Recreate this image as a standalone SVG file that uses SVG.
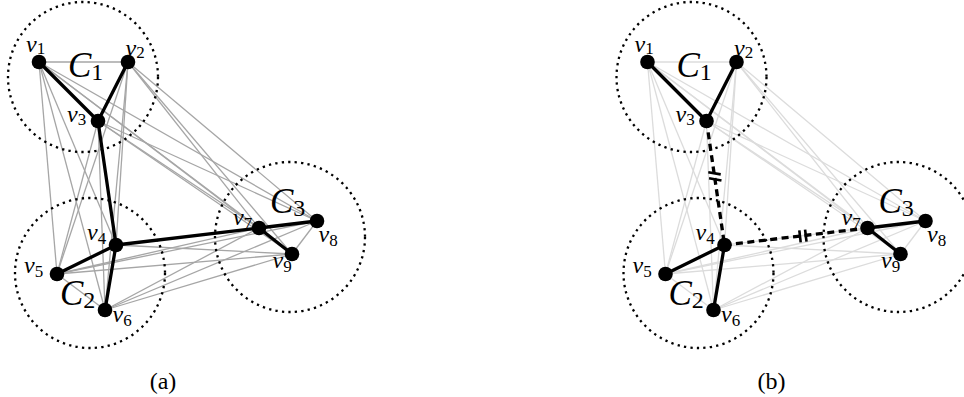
<svg xmlns="http://www.w3.org/2000/svg" width="964" height="397" viewBox="0 0 964 397">
<style>
.ga{stroke:#a6a6a6;stroke-width:1.3;fill:none}
.gb{stroke:#dcdcdc;stroke-width:1.3;fill:none}
.th{stroke:#000;stroke-width:3.3;fill:none;stroke-linecap:round}
.da{stroke:#000;stroke-width:3.3;fill:none;stroke-dasharray:7 4.5}
.tk{stroke:#000;stroke-width:2.6;fill:none}
.clu{fill:none;stroke:#000;stroke-width:2.3;stroke-dasharray:2.3 4.2}
.nd{fill:#000}
</style>
<defs>
<g id="grayedges">
<line x1="39" y1="62" x2="128" y2="62"/>
<line x1="39" y1="62" x2="116" y2="245"/>
<line x1="39" y1="62" x2="57" y2="274"/>
<line x1="39" y1="62" x2="105" y2="310"/>
<line x1="39" y1="62" x2="259" y2="228"/>
<line x1="39" y1="62" x2="317" y2="221"/>
<line x1="39" y1="62" x2="292" y2="254"/>
<line x1="128" y1="62" x2="116" y2="245"/>
<line x1="128" y1="62" x2="57" y2="274"/>
<line x1="128" y1="62" x2="105" y2="310"/>
<line x1="128" y1="62" x2="259" y2="228"/>
<line x1="128" y1="62" x2="317" y2="221"/>
<line x1="128" y1="62" x2="292" y2="254"/>
<line x1="98" y1="121" x2="57" y2="274"/>
<line x1="98" y1="121" x2="105" y2="310"/>
<line x1="98" y1="121" x2="259" y2="228"/>
<line x1="98" y1="121" x2="317" y2="221"/>
<line x1="98" y1="121" x2="292" y2="254"/>
<line x1="116" y1="245" x2="317" y2="221"/>
<line x1="116" y1="245" x2="292" y2="254"/>
<line x1="57" y1="274" x2="105" y2="310"/>
<line x1="57" y1="274" x2="259" y2="228"/>
<line x1="57" y1="274" x2="317" y2="221"/>
<line x1="57" y1="274" x2="292" y2="254"/>
<line x1="105" y1="310" x2="259" y2="228"/>
<line x1="105" y1="310" x2="317" y2="221"/>
<line x1="105" y1="310" x2="292" y2="254"/>
<line x1="317" y1="221" x2="292" y2="254"/>
</g>
</defs>
<g id="panel-a" font-family="'Liberation Serif', serif" fill="#000">
<g id="connectors-a">
<use href="#grayedges" class="ga"/>
<line class="th" x1="39" y1="62" x2="98" y2="121"/>
<line class="th" x1="128" y1="62" x2="98" y2="121"/>
<line class="th" x1="98" y1="121" x2="116" y2="245"/>
<line class="th" x1="116" y1="245" x2="57" y2="274"/>
<line class="th" x1="116" y1="245" x2="105" y2="310"/>
<line class="th" x1="116" y1="245" x2="259" y2="228"/>
<line class="th" x1="259" y1="228" x2="317" y2="221"/>
<line class="th" x1="259" y1="228" x2="292" y2="254"/>
</g>
<g id="cluster-a-C1"><circle class="clu" cx="83" cy="77" r="75"/><text x="68" y="77" font-family="'Liberation Serif', serif" font-style="italic" font-size="35">C<tspan font-style="normal" font-size="24" dy="3">1</tspan></text></g>
<g id="cluster-a-C2"><circle class="clu" cx="90" cy="273" r="75"/><text x="60" y="305" font-family="'Liberation Serif', serif" font-style="italic" font-size="35">C<tspan font-style="normal" font-size="24" dy="3">2</tspan></text></g>
<g id="cluster-a-C3"><circle class="clu" cx="290" cy="237" r="75"/><text x="270" y="213" font-family="'Liberation Serif', serif" font-style="italic" font-size="35">C<tspan font-style="normal" font-size="24" dy="3">3</tspan></text></g>
<g id="a-v1"><circle class="nd" cx="39" cy="62" r="7.3"/><text x="26" y="52" font-family="'Liberation Serif', serif" font-style="italic" font-size="24">v<tspan font-style="normal" font-size="17" dy="2">1</tspan></text></g>
<g id="a-v2"><circle class="nd" cx="128" cy="62" r="7.3"/><text x="125.5" y="56" font-family="'Liberation Serif', serif" font-style="italic" font-size="24">v<tspan font-style="normal" font-size="17" dy="2">2</tspan></text></g>
<g id="a-v3"><circle class="nd" cx="98" cy="121" r="7.3"/><text x="67" y="122" font-family="'Liberation Serif', serif" font-style="italic" font-size="24">v<tspan font-style="normal" font-size="17" dy="3">3</tspan></text></g>
<g id="a-v4"><circle class="nd" cx="116" cy="245" r="7.3"/><text x="87" y="240" font-family="'Liberation Serif', serif" font-style="italic" font-size="24">v<tspan font-style="normal" font-size="17" dy="4">4</tspan></text></g>
<g id="a-v5"><circle class="nd" cx="57" cy="274" r="7.3"/><text x="24" y="273" font-family="'Liberation Serif', serif" font-style="italic" font-size="24">v<tspan font-style="normal" font-size="17" dy="4">5</tspan></text></g>
<g id="a-v6"><circle class="nd" cx="105" cy="310" r="7.3"/><text x="112.5" y="322" font-family="'Liberation Serif', serif" font-style="italic" font-size="24">v<tspan font-style="normal" font-size="17" dy="4">6</tspan></text></g>
<g id="a-v7"><circle class="nd" cx="259" cy="228" r="7.3"/><text x="233" y="225" font-family="'Liberation Serif', serif" font-style="italic" font-size="24">v<tspan font-style="normal" font-size="17" dy="4">7</tspan></text></g>
<g id="a-v8"><circle class="nd" cx="317" cy="221" r="7.3"/><text x="318.5" y="242" font-family="'Liberation Serif', serif" font-style="italic" font-size="24">v<tspan font-style="normal" font-size="17" dy="4">8</tspan></text></g>
<g id="a-v9"><circle class="nd" cx="292" cy="254" r="7.3"/><text x="272.5" y="268" font-family="'Liberation Serif', serif" font-style="italic" font-size="24">v<tspan font-style="normal" font-size="17" dy="4">9</tspan></text></g>
<text x="163" y="389" text-anchor="middle" font-family="'Liberation Serif', serif" font-size="24">(a)</text>
</g>
<g id="panel-b" transform="translate(608.5,0)" fill="#000">
<g id="connectors-b">
<use href="#grayedges" class="gb"/>
<line class="th" x1="39" y1="62" x2="98" y2="121"/>
<line class="th" x1="128" y1="62" x2="98" y2="121"/>
<line class="da" x1="98" y1="121" x2="116" y2="245"/>
<line class="th" x1="116" y1="245" x2="57" y2="274"/>
<line class="th" x1="116" y1="245" x2="105" y2="310"/>
<line class="da" x1="116" y1="245" x2="259" y2="228"/>
<line class="th" x1="259" y1="228" x2="317" y2="221"/>
<line class="th" x1="259" y1="228" x2="292" y2="254"/>
<line class="tk" x1="99.8" y1="172.2" x2="112.2" y2="174.4"/>
<line class="tk" x1="100.6" y1="178.3" x2="113" y2="180.5"/>
<line class="tk" x1="190.8" y1="230.3" x2="192.2" y2="242.3"/>
<line class="tk" x1="196.6" y1="229.6" x2="198" y2="241.6"/>
</g>
<g id="cluster-b-C1"><circle class="clu" cx="83" cy="77" r="75"/><text x="68" y="77" font-family="'Liberation Serif', serif" font-style="italic" font-size="35">C<tspan font-style="normal" font-size="24" dy="3">1</tspan></text></g>
<g id="cluster-b-C2"><circle class="clu" cx="90" cy="273" r="75"/><text x="60" y="305" font-family="'Liberation Serif', serif" font-style="italic" font-size="35">C<tspan font-style="normal" font-size="24" dy="3">2</tspan></text></g>
<g id="cluster-b-C3"><circle class="clu" cx="290" cy="237" r="75"/><text x="270" y="213" font-family="'Liberation Serif', serif" font-style="italic" font-size="35">C<tspan font-style="normal" font-size="24" dy="3">3</tspan></text></g>
<g id="b-v1"><circle class="nd" cx="39" cy="62" r="7.3"/><text x="26" y="52" font-family="'Liberation Serif', serif" font-style="italic" font-size="24">v<tspan font-style="normal" font-size="17" dy="2">1</tspan></text></g>
<g id="b-v2"><circle class="nd" cx="128" cy="62" r="7.3"/><text x="125.5" y="56" font-family="'Liberation Serif', serif" font-style="italic" font-size="24">v<tspan font-style="normal" font-size="17" dy="2">2</tspan></text></g>
<g id="b-v3"><circle class="nd" cx="98" cy="121" r="7.3"/><text x="67" y="122" font-family="'Liberation Serif', serif" font-style="italic" font-size="24">v<tspan font-style="normal" font-size="17" dy="3">3</tspan></text></g>
<g id="b-v4"><circle class="nd" cx="116" cy="245" r="7.3"/><text x="87" y="240" font-family="'Liberation Serif', serif" font-style="italic" font-size="24">v<tspan font-style="normal" font-size="17" dy="4">4</tspan></text></g>
<g id="b-v5"><circle class="nd" cx="57" cy="274" r="7.3"/><text x="24" y="273" font-family="'Liberation Serif', serif" font-style="italic" font-size="24">v<tspan font-style="normal" font-size="17" dy="4">5</tspan></text></g>
<g id="b-v6"><circle class="nd" cx="105" cy="310" r="7.3"/><text x="112.5" y="322" font-family="'Liberation Serif', serif" font-style="italic" font-size="24">v<tspan font-style="normal" font-size="17" dy="4">6</tspan></text></g>
<g id="b-v7"><circle class="nd" cx="259" cy="228" r="7.3"/><text x="233" y="225" font-family="'Liberation Serif', serif" font-style="italic" font-size="24">v<tspan font-style="normal" font-size="17" dy="4">7</tspan></text></g>
<g id="b-v8"><circle class="nd" cx="317" cy="221" r="7.3"/><text x="318.5" y="242" font-family="'Liberation Serif', serif" font-style="italic" font-size="24">v<tspan font-style="normal" font-size="17" dy="4">8</tspan></text></g>
<g id="b-v9"><circle class="nd" cx="292" cy="254" r="7.3"/><text x="272.5" y="268" font-family="'Liberation Serif', serif" font-style="italic" font-size="24">v<tspan font-style="normal" font-size="17" dy="4">9</tspan></text></g>
<text x="163" y="389" text-anchor="middle" font-family="'Liberation Serif', serif" font-size="24">(b)</text>
</g>
</svg>
